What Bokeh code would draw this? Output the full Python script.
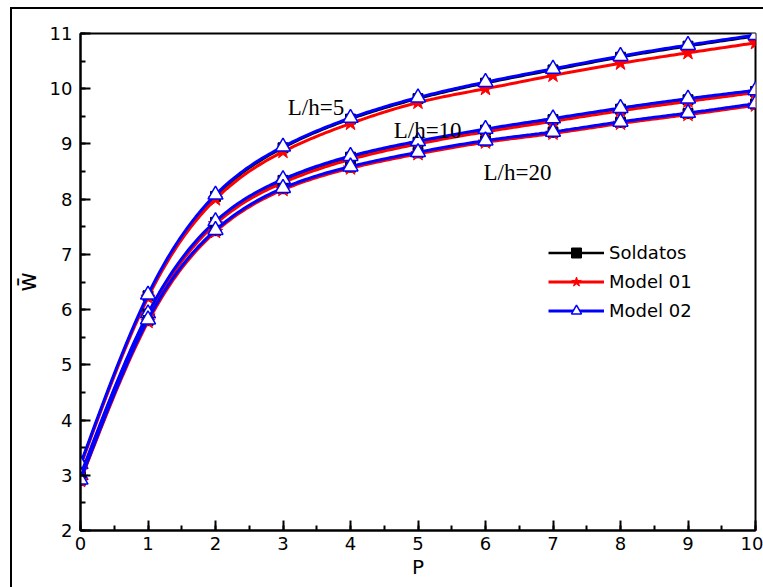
import numpy as np
from bokeh.plotting import figure
from bokeh.models import (SingleIntervalTicker, Range1d, Legend, LegendItem,
                          ColumnDataSource, InlineStyleSheet)
from bokeh.core.properties import value
from bokeh.embed import file_html
from bokeh.resources import INLINE

# ---- data ----
P = [0, 1, 2, 3, 4, 5, 6, 7, 8, 9, 10]

sold_5 = [3.18, 6.25, 8.05, 8.93, 9.45, 9.82, 10.10, 10.34, 10.57, 10.77, 10.95]
m01_5 = [3.17, 6.22, 8.00, 8.86, 9.37, 9.75, 10.00, 10.24, 10.46, 10.65, 10.83]
m02_5 = [3.20, 6.27, 8.08, 8.95, 9.47, 9.84, 10.12, 10.36, 10.59, 10.79, 10.97]

sold_10 = [2.98, 5.92, 7.58, 8.34, 8.76, 9.03, 9.25, 9.44, 9.63, 9.80, 9.95]
m01_10 = [2.96, 5.88, 7.55, 8.30, 8.72, 9.00, 9.22, 9.41, 9.60, 9.77, 9.93]
m02_10 = [3.00, 5.93, 7.60, 8.36, 8.78, 9.05, 9.27, 9.46, 9.65, 9.82, 9.97]

sold_20 = [2.91, 5.80, 7.43, 8.19, 8.58, 8.84, 9.05, 9.21, 9.39, 9.55, 9.72]
m01_20 = [2.90, 5.78, 7.41, 8.17, 8.56, 8.82, 9.03, 9.19, 9.37, 9.53, 9.70]
m02_20 = [2.92, 5.82, 7.44, 8.20, 8.59, 8.85, 9.06, 9.22, 9.40, 9.56, 9.73]

labels = ["L/h=5", "L/h=10", "L/h=20"]
label_x = [3.07, 4.64, 5.97]
label_y = [9.66, 9.25, 8.49]

series_names = ["Soldatos", "Model 01", "Model 02"]


def smooth(xs, ys, n=24):
    """Natural cubic spline through the given points, for drawing only."""
    x = np.asarray(xs, float)
    y = np.asarray(ys, float)
    k = len(x)
    h = np.diff(x)
    A = np.zeros((k, k))
    b = np.zeros(k)
    A[0, 0] = 1
    A[-1, -1] = 1
    for i in range(1, k - 1):
        A[i, i - 1] = h[i - 1]
        A[i, i] = 2 * (h[i - 1] + h[i])
        A[i, i + 1] = h[i]
        b[i] = 3 * ((y[i + 1] - y[i]) / h[i] - (y[i] - y[i - 1]) / h[i - 1])
    c = np.linalg.solve(A, b)
    xo, yo = [], []
    for i in range(k - 1):
        bi = (y[i + 1] - y[i]) / h[i] - h[i] * (2 * c[i] + c[i + 1]) / 3
        di = (c[i + 1] - c[i]) / (3 * h[i])
        t = np.linspace(0, h[i], n, endpoint=(i == k - 2))
        xo.extend(x[i] + t)
        yo.extend(y[i] + bi * t + c[i] * t ** 2 + di * t ** 3)
    return list(xo), list(yo)


TICK_FONT = "DejaVu Sans"

p = figure(width=763, height=587, output_backend="svg", toolbar_location=None,
           x_range=Range1d(0, 10), y_range=Range1d(2, 11),
           min_border_left=80, min_border_right=8, min_border_top=33, min_border_bottom=57)

# outer frame of the picture (only its left and top edges fall inside the window)
p.stylesheets = [InlineStyleSheet(css="""
:host::after {
  content: "";
  position: absolute;
  left: 10px; top: 7px; right: 0px; bottom: 0px;
  border-left: 2px solid black;
  border-top: 2px solid black;
  pointer-events: none;
  z-index: 10;
}
""")]

p.xgrid.visible = False
p.ygrid.visible = False
p.outline_line_color = "black"
p.outline_line_width = 2
p.outline_line_alpha = 1

for ax in (p.xaxis[0], p.yaxis[0]):
    ax.ticker = SingleIntervalTicker(interval=1, num_minor_ticks=2)
    ax.axis_line_width = 2
    ax.axis_line_color = "black"
    ax.major_tick_in = 10
    ax.major_tick_out = 0
    ax.minor_tick_in = 5
    ax.minor_tick_out = 0
    ax.major_tick_line_width = 2
    ax.minor_tick_line_width = 2
    ax.major_tick_line_color = "black"
    ax.minor_tick_line_color = "black"
    ax.major_label_text_font = TICK_FONT
    ax.major_label_text_font_size = "18px"
    ax.major_label_text_color = "black"
    ax.axis_label_text_font = TICK_FONT
    ax.axis_label_text_font_style = "normal"
    ax.axis_label_text_font_size = "20px"
    ax.axis_label_text_color = "black"

p.xaxis.axis_label = "P"
p.xaxis.major_label_standoff = 6
p.xaxis.axis_label_standoff = 2
p.yaxis.axis_label = "w\u0304"
p.yaxis.axis_label_text_font_size = "24px"
p.yaxis.major_label_standoff = 8
p.yaxis.axis_label_standoff = 5

groups = [(sold_5, m01_5, m02_5), (sold_10, m01_10, m02_10), (sold_20, m01_20, m02_20)]
legend_renderers = None
for gi, (s, m1, m2) in enumerate(groups):
    xs, ys = smooth(P, s)
    l0 = p.line(xs, ys, line_color="black", line_width=2.5)
    k0 = p.scatter(P, s, marker="square", size=10, fill_color="black", line_color="black")
    xs, ys = smooth(P, m1)
    l1 = p.line(xs, ys, line_color="red", line_width=3)
    k1 = p.scatter(P, m1, marker="star", size=15, fill_color="red", line_color="red")
    xs, ys = smooth(P, m2)
    l2 = p.line(xs, ys, line_color="blue", line_width=3)
    k2 = p.scatter(P, m2, marker="triangle", size=15, fill_color="white",
                   line_color="blue", line_width=1.5)
    if gi == 0:
        legend_renderers = [[l0, k0], [l1, k1], [l2, k2]]

src = ColumnDataSource(dict(x=label_x, y=label_y, t=labels))
p.text(x="x", y="y", text="t", source=src, text_font=value("Liberation Serif"),
       text_font_size="23px", text_baseline="alphabetic", text_align="left",
       text_color="black")

legend = Legend(items=[LegendItem(label=series_names[i], renderers=legend_renderers[i])
                       for i in range(3)],
                location=(468, 207))
legend.border_line_color = None
legend.background_fill_alpha = 0
legend.glyph_width = 56
legend.glyph_height = 25
legend.label_height = 25
legend.spacing = 4
legend.padding = 5
legend.margin = 0
legend.label_standoff = 5
legend.label_text_font = TICK_FONT
legend.label_text_font_size = "18px"
legend.label_text_color = "black"
p.add_layout(legend, "center")

open("out.html", "w").write(file_html(p, INLINE))
